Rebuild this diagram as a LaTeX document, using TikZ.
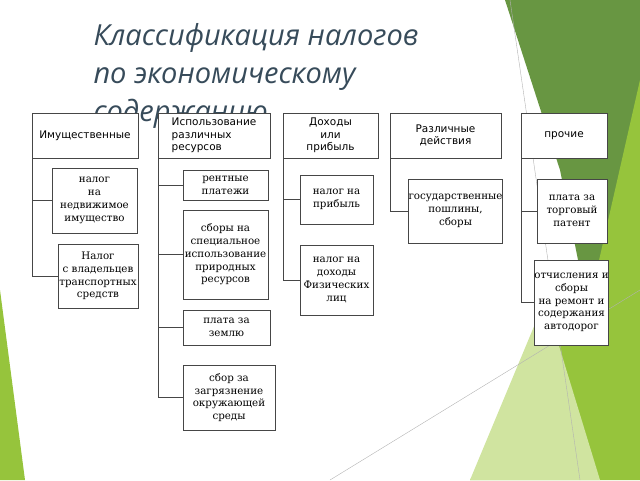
\documentclass[tikz,border=0pt]{standalone}
\usepackage{fontspec}
\setmainfont{DejaVu Serif}
\setsansfont{DejaVu Sans}
\newfontfamily\titlefont{Open Sans}
\usetikzlibrary{positioning}
\definecolor{darkleaf}{RGB}{104,150,66}
\definecolor{leaf}{RGB}{150,196,60}
\definecolor{paleleaf}{RGB}{208,228,160}
\definecolor{titleink}{RGB}{55,75,90}
\definecolor{boxline}{RGB}{70,70,70}

\begin{document}
\begin{tikzpicture}[x=1pt, y=-1pt,
        hdr/.style={rectangle, draw=boxline, fill=white, align=center, inner sep=0pt, font=\sffamily\fontsize{10.5}{12.5}\selectfont},
        item/.style={rectangle, draw=boxline, fill=white, align=center, inner sep=0pt, font=\fontsize{10.3}{12.8}\selectfont},
        link/.style={draw=boxline, thin}
    ]
        \useasboundingbox (0,0) rectangle (640,480);
        % background
        \fill[darkleaf] (505,0) -- (640,0) -- (640,240) -- (600,370) -- (560,170) -- cycle;
        \fill[leaf] (640,80) -- (640,480) -- (470,480) -- (590,300) -- cycle;
        \fill[paleleaf] (545,300) -- (600,480) -- (470,480) -- cycle;
        \fill[leaf] (0,290) -- (25,480) -- (0,480) -- cycle;
        \draw[gray!60] (510,0) -- (580,480);
        \draw[gray!60] (330,480) -- (640,290);
        % title
        \node[anchor=north west, align=left, text=titleink, font=\titlefont\itshape\fontsize{29}{38}\selectfont] (title) at (90,20)
            {Классификация налогов\\по экономическому\\содержанию};
        % headers
        \node[hdr, minimum width=106, minimum height=45] (imu) at (85,135.5) {Имущественные};
        \node[hdr, minimum width=112, minimum height=45, align=left] (res) at (214,135.5) {Использование\\различных\\ресурсов};
        \node[hdr, minimum width=95, minimum height=45] (inc) at (330.5,135.5) {Доходы\\или\\прибыль};
        \node[hdr, minimum width=111, minimum height=45] (act) at (445.5,135.5) {Различные\\действия};
        \node[hdr, minimum width=86, minimum height=45] (oth) at (564,135.5) {прочие};
        % items
        \node[item, minimum width=85, minimum height=65] (imu1) at (94.5,200.5) {налог\\на\\недвижимое\\имущество};
        \node[item, minimum width=80, minimum height=64] (imu2) at (98,276) {Налог\\с владельцев\\транспортных\\средств};
        \node[item, minimum width=85, minimum height=30] (res1) at (225.5,185) {рентные\\платежи};
        \node[item, minimum width=85, minimum height=89] (res2) at (225.5,254.5) {сборы на\\специальное\\использование\\природных\\ресурсов};
        \node[item, minimum width=87, minimum height=35] (res3) at (226.5,327.5) {плата за\\землю};
        \node[item, minimum width=92, minimum height=65] (res4) at (229,397.5) {сбор за\\загрязнение\\окружающей\\среды};
        \node[item, minimum width=73, minimum height=49] (inc1) at (336.5,199.5) {налог на\\прибыль};
        \node[item, minimum width=73, minimum height=70] (inc2) at (336.5,280) {налог на\\доходы\\Физических\\лиц};
        \node[item, minimum width=91, minimum height=64] (act1) at (455.5,211) {государственные\\пошлины,\\сборы};
        \node[item, minimum width=70, minimum height=64] (oth1) at (572,211) {плата за\\торговый\\патент};
        \node[item, minimum width=69, minimum height=85] (oth2) at (571.5,302.5) {отчисления и\\сборы\\на ремонт и\\содержания\\автодорог};
        % tree lines
        \draw[link] (imu.south west) |- (imu1.west);
        \draw[link] (imu.south west) |- (imu2.west);
        \draw[link] (res.south west) |- (res1.west);
        \draw[link] (res.south west) |- (res2.west);
        \draw[link] (res.south west) |- (res3.west);
        \draw[link] (res.south west) |- (res4.west);
        \draw[link] (inc.south west) |- (inc1.west);
        \draw[link] (inc.south west) |- (inc2.west);
        \draw[link] (act.south west) |- (act1.west);
        \draw[link] (oth.south west) |- (oth1.west);
        \draw[link] (oth.south west) |- (oth2.west);
    \end{tikzpicture}
\end{document}
